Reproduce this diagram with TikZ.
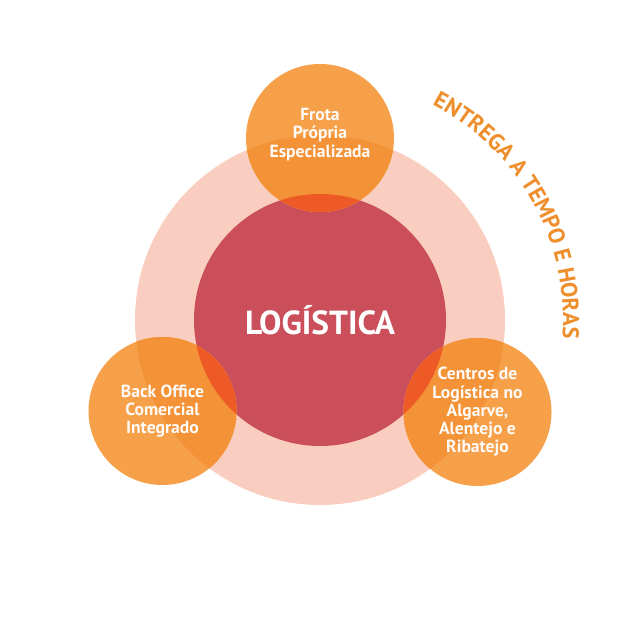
\documentclass[tikz,border=0pt]{standalone}
\usepackage{fontspec}
\setmainfont{PT Sans}
\usetikzlibrary{decorations.text, positioning}

\definecolor{rosaclaro}{HTML}{F9CDBF}
\definecolor{vermelho}{HTML}{CB4F5A}
\definecolor{laranja}{HTML}{F6A04A}
\definecolor{laranjarosa}{HTML}{F39236}
\definecolor{laranjavermelho}{HTML}{EE5A26}
\definecolor{laranjatexto}{HTML}{EE8E2C}

\begin{document}
\begin{tikzpicture}[
            anel/.style   ={circle, fill=rosaclaro, minimum size=7.4cm, inner sep=0pt},
            nucleo/.style ={circle, fill=vermelho, minimum size=5.04cm, inner sep=0pt,
                            text=white, font=\bfseries\fontsize{19}{21}\selectfont},
            bola/.style   ={circle, fill=laranja, minimum size=2.96cm, inner sep=0pt},
            rotulo/.style ={align=center, text=white!96!laranja,
                            font=\bfseries\fontsize{10}{10.4}\selectfont}
        ]
            \useasboundingbox (0,0) rectangle (12.8,12.8);

            % --- Circulos centrais ---
            \node[anel]   (anel)   at (6.4,6.4) {};
            \node[nucleo] (nucleo) at (6.4,6.4) {LOGÍSTICA};

            % --- Circulos laranja ---
            \node[bola] (frota)      at (6.40,10.04) {};
            \node[bola] (backoffice) at (3.25,4.58)  {};
            \node[bola] (centros)    at (9.55,4.56)  {};

            % Zonas de sobreposicao
            \foreach \b in {frota, backoffice, centros} {
                \begin{scope}
                    \clip (\b.center) circle[radius=1.48];
                    \fill[laranjarosa]     (anel.center)   circle[radius=3.7];
                    \fill[laranjavermelho] (nucleo.center) circle[radius=2.52];
                \end{scope}
            }

            % --- Textos ---
            \node[rotulo, yshift=2pt] (frotatxt) at (frota.center) {Frota\\Própria\\Especializada};
            \node[rotulo] (backofficetxt) at (backoffice.center) {Back Office\\Comercial\\Integrado};
            \node[rotulo] (centrostxt)    at (centros.center)    {Centros de\\Logística no\\Algarve,\\Alentejo e\\Ribatejo};

            % Texto em arco
            \path[decorate, decoration={text along path, text align=left,
                  text={|\color{laranjatexto}\bfseries\fontsize{13}{15}\selectfont|ENTREGA A TEMPO E HORAS}}]
                (anel.center) ++(62.5:4.86) arc[start angle=62.5, end angle=-15, radius=4.86];
        \end{tikzpicture}
\end{document}
